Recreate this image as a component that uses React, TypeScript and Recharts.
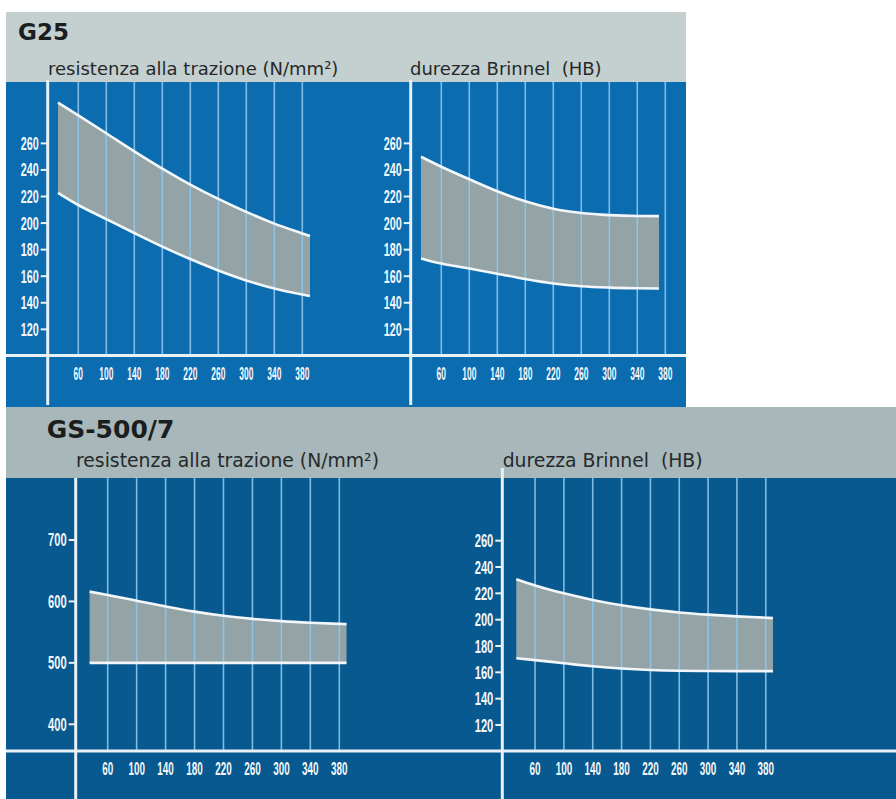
import { Area, ComposedChart, Line, ReferenceLine, XAxis, YAxis } from 'recharts';

// spessore (mm) on the x axis, same ticks for every chart
const xTicks = [60, 100, 140, 180, 220, 260, 300, 340, 380];

// G25 - resistenza alla trazione
const g25TensileX = [31, 60, 100, 140, 180, 220, 260, 300, 340, 380, 391];
const g25TensileMin = [222.8, 213.6, 203, 192.5, 182.3, 172.9, 164.3, 156.8, 150.7, 146.2, 145.1];
const g25TensileMax = [290.6, 281, 267.6, 254, 241, 229, 218.2, 208.4, 199.6, 192.2, 190.2];

// G25 - durezza Brinnel
const g25HardnessX = [31, 60, 100, 140, 180, 220, 260, 300, 340, 371];
const g25HardnessMin = [173.4, 169.5, 165.8, 161.9, 157.9, 154.5, 152.4, 151.4, 150.9, 150.7];
const g25HardnessMax = [249.9, 242.4, 233, 224, 216.4, 210.8, 207.6, 206, 205.3, 205.2];

// GS-500/7 - resistenza alla trazione
const gsTensileX = [35, 60, 100, 140, 180, 220, 260, 300, 340, 380, 390];
const gsTensileMin = [500, 500, 500, 500, 500, 500, 500, 500, 500, 500, 500];
const gsTensileMax = [615.9, 610.4, 601.2, 591.8, 583.4, 576.6, 571.6, 567.9, 565.3, 563.4, 563];

// GS-500/7 - durezza Brinnel
const gsHardnessX = [34, 60, 100, 140, 180, 220, 260, 300, 340, 380, 390];
const gsHardnessMin = [170.7, 169.3, 166.9, 164.6, 162.9, 161.8, 161.2, 161, 160.9, 160.9, 160.9];
const gsHardnessMax = [230.7, 226, 220, 215, 210.9, 207.8, 205.5, 203.8, 202.5, 201.5, 201.2];

const hbTicks = [120, 140, 160, 180, 200, 220, 240, 260];
const gsTensileTicks = [400, 500, 600, 700];

const AXIS = '#e8f1f5';
const GRID = '#8cc6ee';
const BAND = '#93a3a6';

function toRows(xs: number[], lo: number[], hi: number[]) {
  return xs.map((x, i) => ({ x, min: lo[i], max: hi[i], range: [lo[i], hi[i]] }));
}

const tickFont = 'Liberation Sans, Arial, sans-serif';
const TICK_FS = 13;
// Liberation Sans Bold: digit advance 0.556em, cap height ~0.716em
const CAP = 0.716 * TICK_FS;
const DIGIT = 0.556 * TICK_FS;

// the original labels are a very narrow bold face, 13px tall: draw at 13px and reshape
function NarrowText({ x, y, s, perChar, anchor }: { x: number; y: number; s: string; perChar: number; anchor: 'middle' | 'end' }) {
  const sx = perChar / DIGIT;
  const sy = 13 / CAP;
  return (
    <g transform={`translate(${x},${y}) scale(${sx},${sy})`}>
      <text x={0} y={CAP / 2} textAnchor={anchor} fill="#f4f8fa" fontFamily={tickFont} fontWeight="bold" fontSize={TICK_FS}>{s}</text>
    </g>
  );
}

function makeXTick(perChar: number) {
  return (props: any) => {
    const { x, y, payload } = props;
    return <NarrowText x={x} y={y + 17.5} s={String(payload.value)} perChar={perChar} anchor="middle" />;
  };
}

function makeYTick(perChar: number) {
  return (props: any) => {
    const { x, y, payload } = props;
    return <NarrowText x={x} y={y} s={String(payload.value)} perChar={perChar} anchor="end" />;
  };
}

interface BandProps {
  rows: { x: number; min: number; max: number; range: number[] }[];
  left: number;
  top: number;
  width: number;
  height: number;
  marginTop: number;
  axisW: number;
  axisH: number;
  xDomain: [number, number];
  yDomain: [number, number];
  yTicks: number[];
  vTop: number; // px from svg top where the vertical axis line starts
  xChar: number;
  yChar: number;
}

function BandChart(p: BandProps) {
  const pw = p.width - p.axisW;
  const ph = p.height - p.marginTop - p.axisH;
  const [x0, x1] = p.xDomain;
  const [y0, y1] = p.yDomain;
  const xAt = (px: number) => x0 + ((px - p.axisW) / pw) * (x1 - x0);
  const yAt = (py: number) => y1 - ((py - p.marginTop) / ph) * (y1 - y0);
  return (
    <div style={{ position: 'absolute', left: p.left, top: p.top }}>
      <ComposedChart width={p.width} height={p.height} data={p.rows}
        margin={{ top: p.marginTop, right: 0, bottom: 0, left: 0 }} style={{ overflow: 'visible' }}>
        <XAxis dataKey="x" type="number" domain={p.xDomain} allowDataOverflow ticks={xTicks}
          height={p.axisH} axisLine={false} tickLine={false} tickSize={0} tickMargin={0}
          tick={makeXTick(p.xChar)} interval={0} />
        <YAxis type="number" domain={p.yDomain} allowDataOverflow ticks={p.yTicks} width={p.axisW}
          axisLine={false} tickLine={{ stroke: AXIS, strokeWidth: 2 }} tickSize={7} tickMargin={2}
          tick={makeYTick(p.yChar)} interval={0} />
        <Area dataKey="range" type="monotone" fill={BAND} fillOpacity={1} stroke="none" isAnimationActive={false} />
        {xTicks.map((t) => (
          <ReferenceLine key={t} x={t} stroke={GRID} strokeWidth={1.6} strokeOpacity={0.9} />
        ))}
        <Line dataKey="max" type="monotone" stroke="#f2f6f8" strokeWidth={2.6} dot={false} isAnimationActive={false} />
        <Line dataKey="min" type="monotone" stroke="#f2f6f8" strokeWidth={2.6} dot={false} isAnimationActive={false} />
        <ReferenceLine ifOverflow="visible" stroke={AXIS} strokeWidth={3}
          segment={[{ x: xAt(0), y: y0 }, { x: xAt(p.width), y: y0 }]} />
        <ReferenceLine ifOverflow="visible" stroke={AXIS} strokeWidth={3}
          segment={[{ x: x0, y: yAt(p.vTop) }, { x: x0, y: yAt(p.height) }]} />
      </ComposedChart>
    </div>
  );
}

const titleFont = 'DejaVu Sans, sans-serif';

export default function App() {
  return (
    <div style={{ position: 'absolute', left: 0, top: 0, width: 896, height: 799, background: '#ffffff', overflow: 'hidden' }}>
      {/* G25 panel */}
      <div style={{ position: 'absolute', left: 6, top: 12, width: 680, height: 70, background: '#c4d0d0' }} />
      <div style={{ position: 'absolute', left: 6, top: 82, width: 680, height: 325, background: '#0b6cb0' }} />
      <div style={{ position: 'absolute', left: 18, top: 20.5, fontFamily: titleFont, fontWeight: 'bold', fontSize: 23, lineHeight: 1, color: '#1b1e1f' }}>G25</div>
      <div style={{ position: 'absolute', left: 48, top: 59.8, fontFamily: titleFont, fontSize: 18, lineHeight: 1, color: '#26292a', whiteSpace: 'pre' }}>resistenza alla trazione (N/mm²)</div>
      <div style={{ position: 'absolute', left: 410, top: 59.8, fontFamily: titleFont, fontSize: 18, lineHeight: 1, color: '#26292a', whiteSpace: 'pre' }}>durezza Brinnel  (HB)</div>
      <BandChart rows={toRows(g25TensileX, g25TensileMin, g25TensileMax)} left={6} top={70} width={374} height={335}
        marginTop={12} axisW={41.7} axisH={49.5} xDomain={[16.3, 491]} yDomain={[100.3, 306.2]} yTicks={hbTicks}
        vTop={10} xChar={4.7} yChar={6} />
      <BandChart rows={toRows(g25HardnessX, g25HardnessMin, g25HardnessMax)} left={380} top={70} width={306} height={335}
        marginTop={12} axisW={30.7} axisH={49.5} xDomain={[16.3, 409.6]} yDomain={[100.3, 306.2]} yTicks={hbTicks}
        vTop={10} xChar={4.7} yChar={6} />

      {/* GS-500/7 panel */}
      <div style={{ position: 'absolute', left: 6, top: 407, width: 890, height: 71, background: '#a8b8ba' }} />
      <div style={{ position: 'absolute', left: 6, top: 478, width: 890, height: 321, background: '#07598f' }} />
      <div style={{ position: 'absolute', left: 46.7, top: 417, fontFamily: titleFont, fontWeight: 'bold', fontSize: 25, lineHeight: 1, color: '#1b1e1f' }}>GS-500/7</div>
      <div style={{ position: 'absolute', left: 76, top: 452, fontFamily: titleFont, fontSize: 18.8, lineHeight: 1, color: '#26292a', whiteSpace: 'pre' }}>resistenza alla trazione (N/mm²)</div>
      <div style={{ position: 'absolute', left: 502.7, top: 452, fontFamily: titleFont, fontSize: 18.8, lineHeight: 1, color: '#26292a', whiteSpace: 'pre' }}>durezza Brinnel  (HB)</div>
      <BandChart rows={toRows(gsTensileX, gsTensileMin, gsTensileMax)} left={6} top={458} width={464} height={341}
        marginTop={20} axisW={69.7} axisH={48} xDomain={[15.8, 560.6]} yDomain={[356.5, 800.9]} yTicks={gsTensileTicks}
        vTop={20} xChar={5.5} yChar={6.2} />
      <BandChart rows={toRows(gsHardnessX, gsHardnessMin, gsHardnessMax)} left={470} top={458} width={426} height={341}
        marginTop={20} axisW={32.3} axisH={48} xDomain={[14.6, 560.6]} yDomain={[100.25, 307.6]} yTicks={hbTicks}
        vTop={10} xChar={5.5} yChar={6.2} />
    </div>
  );
}
